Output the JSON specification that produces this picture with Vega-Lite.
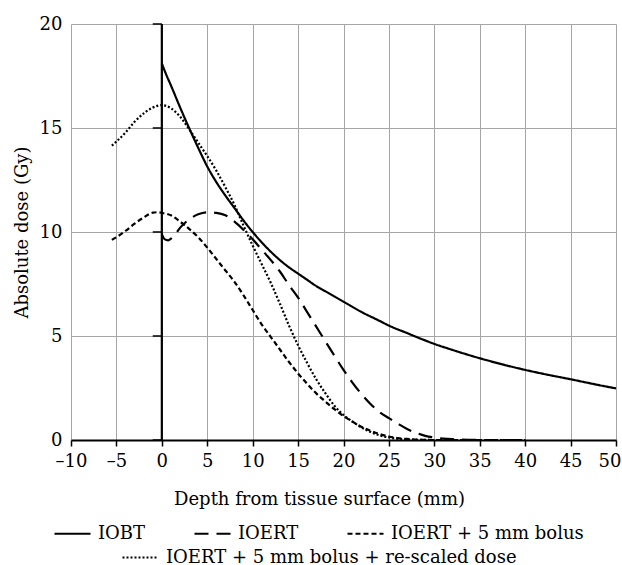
{
  "$schema": "https://vega.github.io/schema/vega-lite/v6.json",
  "width": 545,
  "height": 416,
  "autosize": {"type": "none"},
  "padding": {"left": 71, "top": 24, "right": 6, "bottom": 125},
  "background": "white",
  "config": {
    "view": {"stroke": null},
    "font": "DejaVu Serif",
    "axis": {"labelFont": "DejaVu Serif", "titleFont": "DejaVu Serif", "labelColor": "black", "titleColor": "black", "labelFontSize": 18, "titleFontSize": 18, "titleFontWeight": "normal"},
    "legend": {"labelFont": "DejaVu Serif", "labelFontSize": 18, "labelColor": "black", "labelLimit": 600}
  },
  "datasets": {
    "curves": [
      {"x": 0, "y": 18.1, "s": "IOBT"}, {"x": 0.5, "y": 17.55, "s": "IOBT"}, {"x": 1, "y": 17.05, "s": "IOBT"}, {"x": 2, "y": 16.0, "s": "IOBT"}, {"x": 3, "y": 15.0, "s": "IOBT"}, {"x": 4, "y": 14.05, "s": "IOBT"}, {"x": 5, "y": 13.15, "s": "IOBT"}, {"x": 6, "y": 12.4, "s": "IOBT"}, {"x": 7, "y": 11.75, "s": "IOBT"}, {"x": 8, "y": 11.15, "s": "IOBT"}, {"x": 9, "y": 10.55, "s": "IOBT"}, {"x": 10, "y": 10.0, "s": "IOBT"}, {"x": 11, "y": 9.5, "s": "IOBT"}, {"x": 12, "y": 9.05, "s": "IOBT"}, {"x": 13, "y": 8.65, "s": "IOBT"}, {"x": 14, "y": 8.3, "s": "IOBT"}, {"x": 15, "y": 8.0, "s": "IOBT"}, {"x": 16, "y": 7.7, "s": "IOBT"}, {"x": 17, "y": 7.4, "s": "IOBT"}, {"x": 18, "y": 7.15, "s": "IOBT"}, {"x": 19, "y": 6.9, "s": "IOBT"}, {"x": 20, "y": 6.65, "s": "IOBT"}, {"x": 22, "y": 6.15, "s": "IOBT"}, {"x": 24, "y": 5.72, "s": "IOBT"}, {"x": 25, "y": 5.5, "s": "IOBT"}, {"x": 27, "y": 5.14, "s": "IOBT"}, {"x": 28, "y": 4.96, "s": "IOBT"}, {"x": 30, "y": 4.62, "s": "IOBT"}, {"x": 32, "y": 4.33, "s": "IOBT"}, {"x": 35, "y": 3.93, "s": "IOBT"}, {"x": 38, "y": 3.58, "s": "IOBT"}, {"x": 40, "y": 3.37, "s": "IOBT"}, {"x": 42, "y": 3.18, "s": "IOBT"}, {"x": 45, "y": 2.92, "s": "IOBT"}, {"x": 48, "y": 2.65, "s": "IOBT"}, {"x": 50, "y": 2.48, "s": "IOBT"},

      {"x": 0, "y": 9.9, "s": "IOERT"}, {"x": 0.3, "y": 9.66, "s": "IOERT"}, {"x": 0.7, "y": 9.6, "s": "IOERT"}, {"x": 1, "y": 9.68, "s": "IOERT"}, {"x": 1.5, "y": 9.9, "s": "IOERT"}, {"x": 2, "y": 10.2, "s": "IOERT"}, {"x": 3, "y": 10.6, "s": "IOERT"}, {"x": 4, "y": 10.85, "s": "IOERT"}, {"x": 5, "y": 10.95, "s": "IOERT"}, {"x": 6, "y": 10.92, "s": "IOERT"}, {"x": 7, "y": 10.8, "s": "IOERT"}, {"x": 8, "y": 10.5, "s": "IOERT"}, {"x": 9, "y": 10.1, "s": "IOERT"}, {"x": 10, "y": 9.65, "s": "IOERT"}, {"x": 11, "y": 9.15, "s": "IOERT"}, {"x": 12, "y": 8.65, "s": "IOERT"}, {"x": 13, "y": 8.1, "s": "IOERT"}, {"x": 14, "y": 7.45, "s": "IOERT"}, {"x": 15, "y": 6.85, "s": "IOERT"}, {"x": 16, "y": 6.15, "s": "IOERT"}, {"x": 17, "y": 5.45, "s": "IOERT"}, {"x": 18, "y": 4.75, "s": "IOERT"}, {"x": 19, "y": 4.05, "s": "IOERT"}, {"x": 20, "y": 3.37, "s": "IOERT"}, {"x": 21, "y": 2.75, "s": "IOERT"}, {"x": 22, "y": 2.2, "s": "IOERT"}, {"x": 23, "y": 1.72, "s": "IOERT"}, {"x": 24, "y": 1.33, "s": "IOERT"}, {"x": 25, "y": 1.05, "s": "IOERT"}, {"x": 26, "y": 0.78, "s": "IOERT"}, {"x": 27, "y": 0.53, "s": "IOERT"}, {"x": 28, "y": 0.34, "s": "IOERT"}, {"x": 29, "y": 0.2, "s": "IOERT"}, {"x": 30, "y": 0.12, "s": "IOERT"}, {"x": 31, "y": 0.07, "s": "IOERT"}, {"x": 32, "y": 0.04, "s": "IOERT"}, {"x": 34, "y": 0.01, "s": "IOERT"}, {"x": 36, "y": 0, "s": "IOERT"}, {"x": 40, "y": 0, "s": "IOERT"},

      {"x": -5.5, "y": 9.62, "s": "IOERT + 5 mm bolus"}, {"x": -5, "y": 9.75, "s": "IOERT + 5 mm bolus"}, {"x": -4, "y": 10.05, "s": "IOERT + 5 mm bolus"}, {"x": -3, "y": 10.4, "s": "IOERT + 5 mm bolus"}, {"x": -2, "y": 10.7, "s": "IOERT + 5 mm bolus"}, {"x": -1, "y": 10.93, "s": "IOERT + 5 mm bolus"}, {"x": -0.5, "y": 10.95, "s": "IOERT + 5 mm bolus"}, {"x": 0, "y": 10.92, "s": "IOERT + 5 mm bolus"}, {"x": 1, "y": 10.8, "s": "IOERT + 5 mm bolus"}, {"x": 2, "y": 10.5, "s": "IOERT + 5 mm bolus"}, {"x": 3, "y": 10.15, "s": "IOERT + 5 mm bolus"}, {"x": 4, "y": 9.75, "s": "IOERT + 5 mm bolus"}, {"x": 5, "y": 9.25, "s": "IOERT + 5 mm bolus"}, {"x": 6, "y": 8.7, "s": "IOERT + 5 mm bolus"}, {"x": 7, "y": 8.15, "s": "IOERT + 5 mm bolus"}, {"x": 8, "y": 7.6, "s": "IOERT + 5 mm bolus"}, {"x": 9, "y": 6.95, "s": "IOERT + 5 mm bolus"}, {"x": 10, "y": 6.25, "s": "IOERT + 5 mm bolus"}, {"x": 11, "y": 5.55, "s": "IOERT + 5 mm bolus"}, {"x": 12, "y": 4.95, "s": "IOERT + 5 mm bolus"}, {"x": 13, "y": 4.35, "s": "IOERT + 5 mm bolus"}, {"x": 14, "y": 3.75, "s": "IOERT + 5 mm bolus"}, {"x": 15, "y": 3.2, "s": "IOERT + 5 mm bolus"}, {"x": 16, "y": 2.7, "s": "IOERT + 5 mm bolus"}, {"x": 17, "y": 2.24, "s": "IOERT + 5 mm bolus"}, {"x": 18, "y": 1.85, "s": "IOERT + 5 mm bolus"}, {"x": 19, "y": 1.48, "s": "IOERT + 5 mm bolus"}, {"x": 20, "y": 1.15, "s": "IOERT + 5 mm bolus"}, {"x": 21, "y": 0.88, "s": "IOERT + 5 mm bolus"}, {"x": 22, "y": 0.63, "s": "IOERT + 5 mm bolus"}, {"x": 23, "y": 0.44, "s": "IOERT + 5 mm bolus"}, {"x": 24, "y": 0.28, "s": "IOERT + 5 mm bolus"}, {"x": 25, "y": 0.17, "s": "IOERT + 5 mm bolus"}, {"x": 26, "y": 0.09, "s": "IOERT + 5 mm bolus"}, {"x": 27, "y": 0.05, "s": "IOERT + 5 mm bolus"}, {"x": 28, "y": 0.02, "s": "IOERT + 5 mm bolus"}, {"x": 30, "y": 0, "s": "IOERT + 5 mm bolus"}, {"x": 35, "y": 0, "s": "IOERT + 5 mm bolus"}, {"x": 40, "y": 0, "s": "IOERT + 5 mm bolus"},

      {"x": -5.5, "y": 14.15, "s": "IOERT + 5 mm bolus + re-scaled dose"}, {"x": -5, "y": 14.35, "s": "IOERT + 5 mm bolus + re-scaled dose"}, {"x": -4, "y": 14.78, "s": "IOERT + 5 mm bolus + re-scaled dose"}, {"x": -3, "y": 15.3, "s": "IOERT + 5 mm bolus + re-scaled dose"}, {"x": -2, "y": 15.7, "s": "IOERT + 5 mm bolus + re-scaled dose"}, {"x": -1, "y": 15.98, "s": "IOERT + 5 mm bolus + re-scaled dose"}, {"x": 0, "y": 16.1, "s": "IOERT + 5 mm bolus + re-scaled dose"}, {"x": 1, "y": 15.95, "s": "IOERT + 5 mm bolus + re-scaled dose"}, {"x": 2, "y": 15.55, "s": "IOERT + 5 mm bolus + re-scaled dose"}, {"x": 3, "y": 14.95, "s": "IOERT + 5 mm bolus + re-scaled dose"}, {"x": 4, "y": 14.3, "s": "IOERT + 5 mm bolus + re-scaled dose"}, {"x": 5, "y": 13.65, "s": "IOERT + 5 mm bolus + re-scaled dose"}, {"x": 6, "y": 12.95, "s": "IOERT + 5 mm bolus + re-scaled dose"}, {"x": 7, "y": 12.15, "s": "IOERT + 5 mm bolus + re-scaled dose"}, {"x": 8, "y": 11.3, "s": "IOERT + 5 mm bolus + re-scaled dose"}, {"x": 9, "y": 10.3, "s": "IOERT + 5 mm bolus + re-scaled dose"}, {"x": 10, "y": 9.35, "s": "IOERT + 5 mm bolus + re-scaled dose"}, {"x": 11, "y": 8.45, "s": "IOERT + 5 mm bolus + re-scaled dose"}, {"x": 12, "y": 7.55, "s": "IOERT + 5 mm bolus + re-scaled dose"}, {"x": 13, "y": 6.55, "s": "IOERT + 5 mm bolus + re-scaled dose"}, {"x": 14, "y": 5.5, "s": "IOERT + 5 mm bolus + re-scaled dose"}, {"x": 15, "y": 4.55, "s": "IOERT + 5 mm bolus + re-scaled dose"}, {"x": 16, "y": 3.7, "s": "IOERT + 5 mm bolus + re-scaled dose"}, {"x": 17, "y": 2.92, "s": "IOERT + 5 mm bolus + re-scaled dose"}, {"x": 18, "y": 2.25, "s": "IOERT + 5 mm bolus + re-scaled dose"}, {"x": 19, "y": 1.65, "s": "IOERT + 5 mm bolus + re-scaled dose"}, {"x": 20, "y": 1.2, "s": "IOERT + 5 mm bolus + re-scaled dose"}, {"x": 21, "y": 0.88, "s": "IOERT + 5 mm bolus + re-scaled dose"}, {"x": 22, "y": 0.6, "s": "IOERT + 5 mm bolus + re-scaled dose"}, {"x": 23, "y": 0.38, "s": "IOERT + 5 mm bolus + re-scaled dose"}, {"x": 24, "y": 0.22, "s": "IOERT + 5 mm bolus + re-scaled dose"}, {"x": 25, "y": 0.12, "s": "IOERT + 5 mm bolus + re-scaled dose"}, {"x": 26, "y": 0.06, "s": "IOERT + 5 mm bolus + re-scaled dose"}, {"x": 27, "y": 0.03, "s": "IOERT + 5 mm bolus + re-scaled dose"}, {"x": 30, "y": 0, "s": "IOERT + 5 mm bolus + re-scaled dose"}, {"x": 35, "y": 0, "s": "IOERT + 5 mm bolus + re-scaled dose"}, {"x": 40, "y": 0, "s": "IOERT + 5 mm bolus + re-scaled dose"}
    ],
    "yticks": [{"y": 0}, {"y": 5}, {"y": 10}, {"y": 15}, {"y": 20}]
  },
  "layer": [
    {
      "data": {"name": "curves"},
      "transform": [{"filter": "datum.s !== 'IOERT + 5 mm bolus + re-scaled dose'"}],
      "mark": {"type": "line", "color": "black", "strokeWidth": 2.2, "interpolate": "monotone"},
      "encoding": {
        "x": {
          "field": "x", "type": "quantitative",
          "scale": {"domain": [-10, 50], "nice": false, "zero": false},
          "axis": {
            "title": "Depth from tissue surface (mm)",
            "values": [-10, -5, 0, 5, 10, 15, 20, 25, 30, 35, 40, 45, 50],
            "labelExpr": "datum.value < 0 ? '\u2013' + abs(datum.value) : '' + datum.value",
            "grid": true, "gridColor": "#a6a6a6", "gridWidth": 1, "gridOpacity": 1,
            "domainColor": "black", "domainWidth": 2,
            "tickColor": "black", "tickSize": 6, "tickWidth": 1.5,
            "labelPadding": 6, "labelFlush": false, "labelBound": false,
            "labelAlign": {"condition": {"test": "datum.value === 50", "value": "right"}, "value": "center"},
            "labelOffset": {"condition": {"test": "datum.value === 50", "value": 5}, "value": 0},
            "titleX": 248, "titleY": 59, "titleAlign": "center", "titleBaseline": "middle", "titleAnchor": null
          }
        },
        "y": {
          "field": "y", "type": "quantitative",
          "scale": {"domain": [0, 20], "nice": false},
          "axis": {
            "title": "Absolute dose (Gy)",
            "values": [0, 5, 10, 15, 20],
            "grid": true, "gridColor": "#a6a6a6", "gridWidth": 1, "gridOpacity": 1,
            "domain": false, "ticks": false, "labelPadding": 9,
            "titleX": -49, "titleY": 208, "titleAngle": -90, "titleAlign": "center", "titleBaseline": "middle"
          }
        },
        "strokeDash": {
          "field": "s", "type": "nominal",
          "scale": {"domain": ["IOBT", "IOERT", "IOERT + 5 mm bolus"], "range": [[1, 0], [14, 8], [5, 3]]},
          "legend": {
            "orient": "none", "legendX": -18, "legendY": 490, "direction": "horizontal", "title": null,
            "symbolType": "stroke", "symbolSize": 1296, "symbolStrokeWidth": 2.2, "symbolStrokeColor": "black",
            "labelOffset": 6, "columnPadding": 44, "padding": 0
          }
        }
      }
    },
    {
      "data": {"name": "curves"},
      "transform": [{"filter": "datum.s === 'IOERT + 5 mm bolus + re-scaled dose'"}],
      "mark": {"type": "line", "color": "black", "strokeWidth": 2.2, "strokeDash": [2, 2], "interpolate": "monotone"},
      "encoding": {
        "x": {"field": "x", "type": "quantitative"},
        "y": {"field": "y", "type": "quantitative"},
        "opacity": {
          "field": "s", "type": "nominal",
          "scale": {"domain": ["IOERT + 5 mm bolus + re-scaled dose"], "range": [1]},
          "legend": {
            "orient": "none", "legendX": 50, "legendY": 514, "direction": "horizontal", "title": null,
            "symbolType": "stroke", "symbolSize": 1296, "symbolStrokeWidth": 2.2, "symbolStrokeColor": "black", "symbolDash": [2, 2],
            "labelOffset": 6, "padding": 0
          }
        }
      }
    },
    {
      "data": {"values": [{"x": 0, "y": 0, "y2": 20}]},
      "mark": {"type": "rule", "color": "black", "strokeWidth": 2.2},
      "encoding": {
        "x": {"field": "x", "type": "quantitative"},
        "y": {"field": "y", "type": "quantitative"},
        "y2": {"field": "y2"}
      }
    },
    {
      "data": {"name": "yticks"},
      "mark": {"type": "rule", "color": "black", "strokeWidth": 1.5},
      "encoding": {
        "x": {"datum": -1, "type": "quantitative"},
        "x2": {"datum": 0},
        "y": {"field": "y", "type": "quantitative"}
      }
    }
  ]
}
